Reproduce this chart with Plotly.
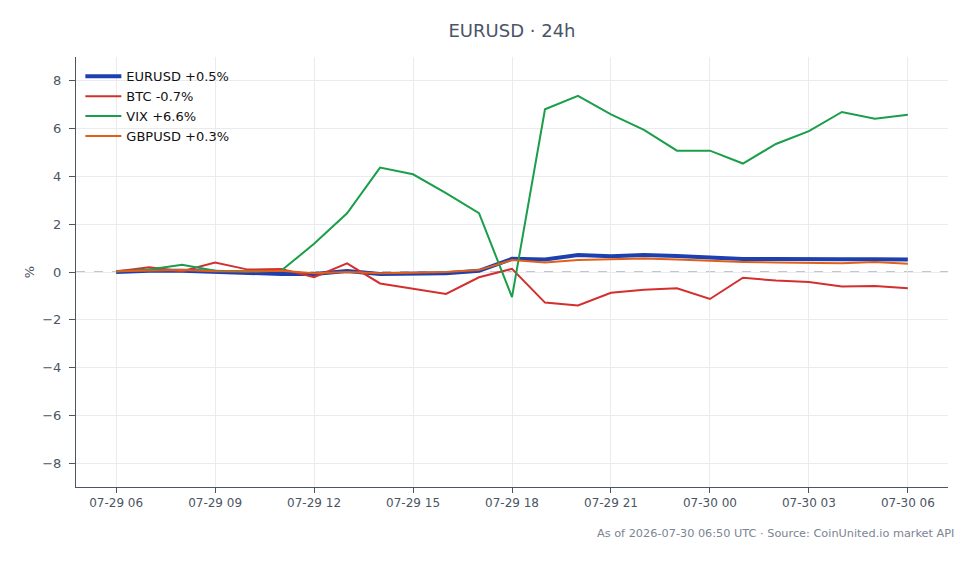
import plotly.graph_objects as go
import pandas as pd

times = pd.date_range("2026-07-29 06:00", "2026-07-30 06:00", freq="h")

eurusd = [0.0, 0.05, 0.05, 0.0, -0.05, -0.08, -0.08, 0.04, -0.08, -0.07, -0.05, 0.05,
          0.55, 0.52, 0.71, 0.66, 0.71, 0.67, 0.59, 0.54, 0.54, 0.52, 0.53, 0.53, 0.52]
btc = [0.02, 0.2, 0.03, 0.4, 0.1, 0.13, -0.22, 0.36, -0.48, -0.7, -0.92, -0.22,
       0.13, -1.28, -1.4, -0.87, -0.74, -0.68, -1.13, -0.24, -0.36, -0.42, -0.61, -0.59, -0.68]
vix = [0.02, 0.1, 0.3, 0.05, 0.03, 0.05, 1.18, 2.46, 4.37, 4.09, 3.3, 2.46,
       -1.05, 6.81, 7.37, 6.6, 5.95, 5.08, 5.08, 4.54, 5.36, 5.9, 6.7, 6.42, 6.58]
gbpusd = [0.03, 0.05, 0.08, 0.03, 0.02, 0.05, -0.05, 0.0, -0.05, -0.03, 0.0, 0.08,
          0.5, 0.4, 0.5, 0.53, 0.56, 0.52, 0.46, 0.42, 0.4, 0.39, 0.37, 0.42, 0.35]

names = ["EURUSD +0.5%", "BTC -0.7%", "VIX +6.6%", "GBPUSD +0.3%"]
colors = ["#1e40af", "#d32f2f", "#1a9e4a", "#e0601a"]
widths = [4, 2, 2, 2]
series = [eurusd, btc, vix, gbpusd]

fig = go.Figure()
for nm, s, c, w in zip(names, series, colors, widths):
    fig.add_trace(go.Scatter(x=times, y=s, mode="lines", name=nm,
                             line=dict(color=c, width=w)))

fig.add_shape(type="line", xref="paper", yref="y", x0=0, x1=1, y0=0, y1=0,
              line=dict(color="#7f8aa3", width=1, dash="dash"), layer="below")

axis_color = "#4b5563"
fig.update_layout(
    width=980, height=564,
    margin=dict(l=76, r=32, t=57, b=77),
    paper_bgcolor="white", plot_bgcolor="white",
    font=dict(family="DejaVu Sans", size=12, color="#4b5563"),
    title=dict(text="EURUSD · 24h", x=0.5, xref="paper", xanchor="center",
               y=0.945, yanchor="middle", font=dict(size=18, color="#4a5568")),
    legend=dict(x=0.005, y=0.99, xanchor="left", yanchor="top",
                bgcolor="rgba(0,0,0,0)", font=dict(size=13, color="#111111"),
                itemwidth=36, tracegroupgap=0),
    showlegend=True,
)
fig.update_xaxes(
    range=["2026-07-29 04:47", "2026-07-30 07:13"],
    tickformat="%m-%d %H", dtick=3 * 3600 * 1000, tick0="2026-07-29 06:00",
    showgrid=True, gridcolor="#e9ebef", gridwidth=1,
    showline=True, linecolor=axis_color, linewidth=1,
    ticks="outside", ticklen=5, tickcolor=axis_color,
    zeroline=False, tickfont=dict(size=12, color="#4b5563"),
)
fig.update_yaxes(
    range=[-9, 9], dtick=2, tick0=0,
    showgrid=True, gridcolor="#e9ebef", gridwidth=1,
    showline=True, linecolor=axis_color, linewidth=1,
    ticks="outside", ticklen=6, tickcolor=axis_color, ticklabelstandoff=5,
    zeroline=False, tickfont=dict(size=13, color="#4b5563"),
    title=dict(text="%", standoff=4, font=dict(size=13, color="#4b5563")),
)
fig.add_annotation(text="As of 2026-07-30 06:50 UTC · Source: CoinUnited.io market API",
                   xref="paper", yref="paper", x=1.0092, y=-0.109,
                   xanchor="right", yanchor="middle", showarrow=False,
                   font=dict(size=11.3, color="#7b8494"))

fig.write_html("out.html")
